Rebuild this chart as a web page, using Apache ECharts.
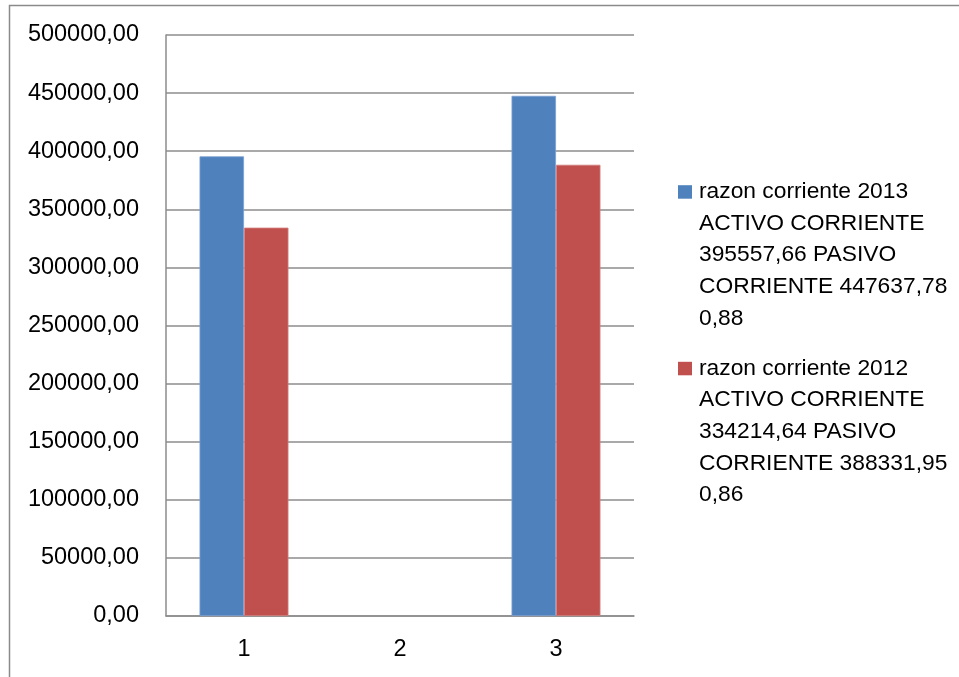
<!DOCTYPE html>
<html>
<head>
<meta charset="utf-8">
<style>
  html, body { margin: 0; padding: 0; background: #ffffff; }
  #chart { width: 959px; height: 677px; }
</style>
<script src="https://cdn.jsdelivr.net/npm/echarts@6/dist/echarts.min.js"></script>
</head>
<body>
<div id="chart"></div>
<script>
// Category labels on the x axis
const categories = ['1', '2', '3'];

// Series values (category 2 has no data)
const values2013 = [395557.66, null, 447637.78];
const values2012 = [334214.64, null, 388331.95];

// Series names, one legend line per entry
const name2013Lines = ['razon corriente 2013', 'ACTIVO CORRIENTE', '395557,66 PASIVO', 'CORRIENTE 447637,78', '0,88'];
const name2012Lines = ['razon corriente 2012', 'ACTIVO CORRIENTE', '334214,64 PASIVO', 'CORRIENTE 388331,95', '0,86'];

// Value axis range
const yMin = 0;
const yMax = 500000;
const yStep = 50000;

const colors = ['#4f81bd', '#c0504d'];
const fontFamily = '"Liberation Sans", Arial, sans-serif';
const gridColor = '#8c8c8c';

function formatValue(v) {
  return v.toFixed(2).replace('.', ',');
}

const chart = echarts.init(document.getElementById('chart'), null, { renderer: 'canvas' });

// Legend block drawn as text lines with a square marker beside the first line
function legendItem(lines, color, top) {
  const lineH = 31.7;
  const children = [
    {
      type: 'rect',
      shape: { x: 678, y: top - 6.5, width: 14, height: 13.5 },
      style: { fill: color }
    }
  ];
  lines.forEach((t, i) => {
    children.push({
      type: 'text',
      x: 699,
      y: top + i * lineH,
      style: {
        text: t,
        fill: '#000000',
        font: '22.8px ' + fontFamily,
        verticalAlign: 'middle',
        align: 'left'
      }
    });
  });
  return children;
}

const option = {
  animation: false,
  backgroundColor: '#ffffff',
  grid: {
    left: 166,
    top: 35,
    width: 468,
    height: 581,
    containLabel: false
  },
  xAxis: {
    type: 'category',
    data: categories,
    axisLine: { show: true, lineStyle: { color: gridColor, width: 1.5 } },
    axisTick: { show: false },
    axisLabel: {
      margin: 22,
      color: '#000000',
      fontSize: 23.5,
      fontFamily: fontFamily
    },
    splitLine: { show: false }
  },
  yAxis: {
    type: 'value',
    min: yMin,
    max: yMax,
    interval: yStep,
    axisLine: { show: true, lineStyle: { color: gridColor, width: 1.5 } },
    axisTick: { show: false },
    axisLabel: {
      margin: 27,
      color: '#000000',
      fontSize: 23.5,
      fontFamily: fontFamily,
      formatter: formatValue
    },
    splitLine: { show: true, lineStyle: { color: gridColor, width: 1.5 } }
  },
  series: [
    {
      name: name2013Lines.join(' '),
      type: 'bar',
      data: values2013,
      barGap: '0%',
      barCategoryGap: '43%',
      itemStyle: { color: colors[0], borderColor: '#7a9fd0', borderWidth: 0.8 }
    },
    {
      name: name2012Lines.join(' '),
      type: 'bar',
      data: values2012,
      barGap: '0%',
      barCategoryGap: '43%',
      itemStyle: { color: colors[1], borderColor: '#d37f7d', borderWidth: 0.8 }
    }
  ],
  graphic: [
    {
      type: 'rect',
      shape: { x: 9.5, y: 5.5, width: 1000, height: 1000 },
      style: { fill: 'none', stroke: '#8a8a8a', lineWidth: 1.5 },
      silent: true
    },
    ...legendItem(name2013Lines, colors[0], 191.7),
    ...legendItem(name2012Lines, colors[1], 368.3)
  ]
};

chart.setOption(option);
</script>
</body>
</html>
